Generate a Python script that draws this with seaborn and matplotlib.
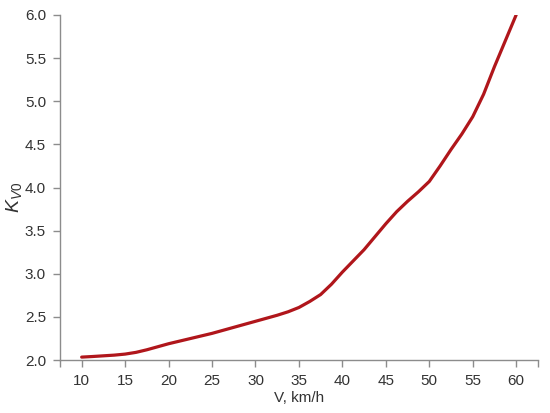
import pandas as pd
import matplotlib
matplotlib.use("Agg")
import matplotlib.pyplot as plt
import seaborn as sns

# speed, km/h and the K_V0 value
speed = [10, 11.25, 12.5, 13.75, 15, 16.25, 17.5, 18.75, 20, 22.5, 25,
         27.5, 30, 31.25, 32.5, 33.75, 35, 36.25, 37.5, 38.75, 40, 41.25,
         42.5, 43.75, 45, 46.25, 47.5, 48.75, 50, 51.25, 52.5, 53.75, 55,
         56.25, 57.5, 58.75, 60]
k_v0 = [2.035, 2.042, 2.05, 2.058, 2.07, 2.09, 2.12, 2.155, 2.19, 2.25,
        2.31, 2.38, 2.45, 2.485, 2.52, 2.56, 2.61, 2.68, 2.76, 2.88, 3.02,
        3.15, 3.28, 3.43, 3.58, 3.72, 3.84, 3.95, 4.07, 4.25, 4.44, 4.62,
        4.82, 5.08, 5.40, 5.70, 6.0]
x_ticks = [10, 15, 20, 25, 30, 35, 40, 45, 50, 55, 60]
y_ticks = [2.0, 2.5, 3.0, 3.5, 4.0, 4.5, 5.0, 5.5, 6.0]


def main():
    data = pd.DataFrame({"V": speed, "K": k_v0})

    sns.set_theme(style="ticks")
    plt.rcParams["font.family"] = ["Liberation Sans", "DejaVu Sans"]
    plt.rcParams["mathtext.fontset"] = "custom"
    plt.rcParams["mathtext.rm"] = "Liberation Sans"
    plt.rcParams["mathtext.it"] = "Liberation Sans:italic"

    fig = plt.figure(figsize=(5.5, 4.13), dpi=100)
    ax = fig.add_axes([0.109, 0.128, 0.869, 0.836])
    sns.lineplot(data=data, x="V", y="K", ax=ax, color="#B0161B",
                 linewidth=2.3)
    for ln in ax.lines:
        ln.set_solid_joinstyle("round")

    ax.set_xlim(7.5, 62.5)
    ax.set_ylim(2.0, 6.0)
    ax.set_xticks(x_ticks)
    ax.set_yticks(y_ticks)
    ax.set_yticklabels([f"{v:.1f}" for v in y_ticks])
    ax.set_xticks([7.5, 62.5], minor=True)

    grey = "#8c8c8c"
    for side in ["left", "bottom"]:
        ax.spines[side].set_color(grey)
        ax.spines[side].set_linewidth(1.0)
    sns.despine(ax=ax)
    ax.tick_params(axis="both", which="both", direction="out", length=5,
                   width=1.0, color=grey, labelsize=11,
                   labelcolor="#333333", pad=5)

    ax.set_xlabel("V, km/h", fontsize=11, color="#333333", labelpad=2)
    ax.set_ylabel(r"$\mathit{K_{V0}}$", fontsize=14, color="#333333")
    ax.yaxis.set_label_coords(-0.076, 0.47)

    fig.savefig("out.png", dpi=100)


if __name__ == "__main__":
    main()
